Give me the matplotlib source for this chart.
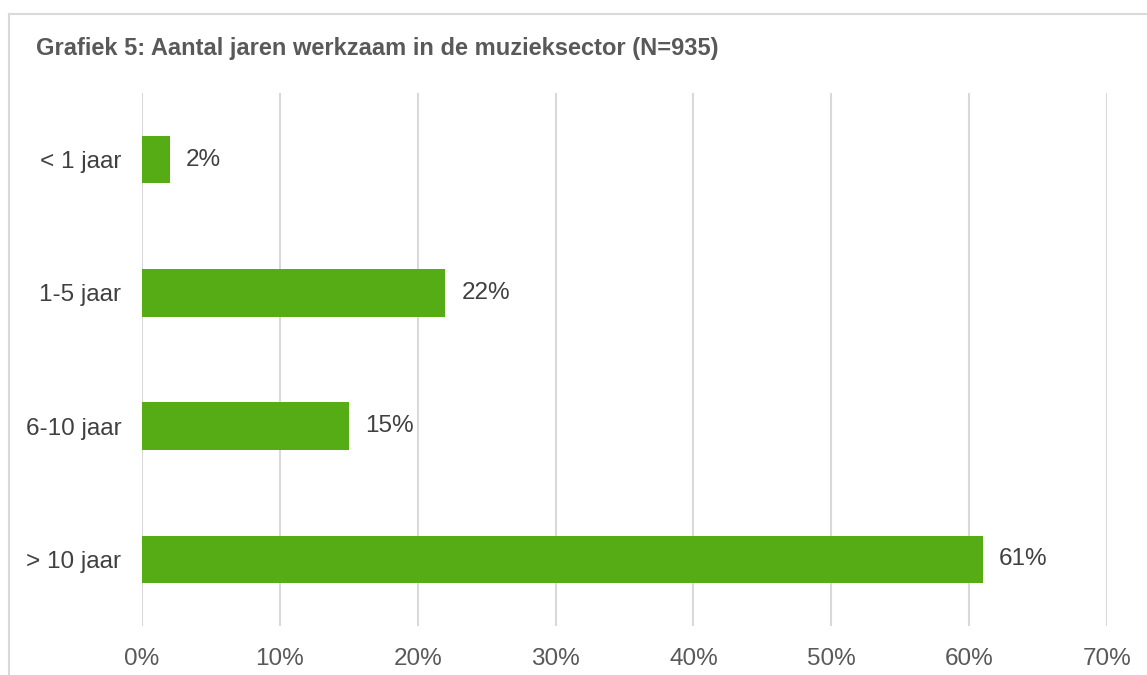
import matplotlib
matplotlib.use("Agg")
import matplotlib.pyplot as plt
from matplotlib.lines import Line2D

categories = ["< 1 jaar", "1-5 jaar", "6-10 jaar", "> 10 jaar"]
values = [2, 22, 15, 61]
xticks = [0, 10, 20, 30, 40, 50, 60, 70]
title = "Grafiek 5: Aantal jaren werkzaam in de muzieksector (N=935)"

plt.rcParams['font.family'] = ['Liberation Sans', 'DejaVu Sans']

W, H = 1147, 675
fig = plt.figure(figsize=(W / 100, H / 100), dpi=100)
ax = fig.add_axes([142 / W, 1 - 626 / H, (1107 - 142) / W, (626 - 93) / H])

y = list(range(len(categories)))
bars = ax.barh(y, values, height=0.355, color="#56AC14", zorder=3)
ax.set_ylim(len(categories) - 0.5, -0.5)
ax.set_xlim(0, 70)
ax.set_xticks(xticks)
ax.set_xticklabels([f"{t}%" for t in xticks])
ax.set_yticks(y)
ax.set_yticklabels(categories)
ax.tick_params(axis='x', length=0, pad=16, labelsize=17.5, labelcolor="#595959")
ax.tick_params(axis='y', length=0, pad=15, labelsize=17.5, labelcolor="#404040")
ax.grid(axis='x', color="#D9D9D9", linewidth=1.5, zorder=0)
for s in ax.spines.values():
    s.set_visible(False)

for rect, v in zip(bars, values):
    ax.annotate(f"{v}%", (v, rect.get_y() + rect.get_height() / 2),
                xytext=(11.5, 0), textcoords="offset points",
                va="center", ha="left", fontsize=17.5, color="#404040")

fig.text(36 / W, 1 - 48 / H, title, fontsize=17, fontweight="bold",
         color="#595959", va="center", ha="left")

# outer frame lines
fig.add_artist(Line2D([9 / W, 1146 / W], [1 - 14 / H, 1 - 14 / H],
                      transform=fig.transFigure, color="#D9D9D9", linewidth=1.5))
fig.add_artist(Line2D([9 / W, 9 / W], [1 - 14 / H, 0],
                      transform=fig.transFigure, color="#D9D9D9", linewidth=1.5))

fig.savefig("out.png", dpi=100)
